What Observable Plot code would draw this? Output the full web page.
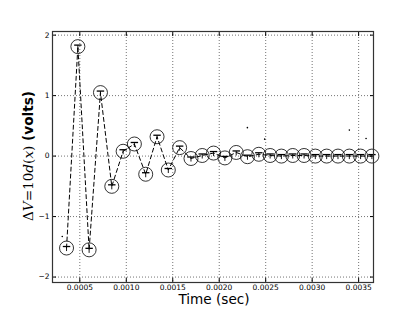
<!DOCTYPE html>
<html>
<head>
<meta charset="utf-8">
<script src="https://cdn.jsdelivr.net/npm/d3@7"></script>
<script src="https://cdn.jsdelivr.net/npm/@observablehq/plot@0.6"></script>
<style>
  html, body { margin: 0; padding: 0; background: #fff; }
  svg { display: block; }
</style>
</head>
<body>
<div id="chart"></div>
<script>
const times = [0.000357, 0.000479, 0.000600, 0.000722, 0.000844, 0.000966, 0.001087,
  0.001209, 0.001331, 0.001452, 0.001574, 0.001696, 0.001817, 0.001939, 0.002061,
  0.002183, 0.002304, 0.002426, 0.002548, 0.002669, 0.002791, 0.002913, 0.003034,
  0.003156, 0.003278, 0.003400, 0.003521, 0.003643];
const volts = [-1.52, 1.81, -1.55, 1.05, -0.50, 0.08, 0.20, -0.30, 0.32, -0.23, 0.14,
  -0.04, 0.01, 0.05, -0.03, 0.06, -0.01, 0.03, 0.01, 0.00, 0.01, 0.01, 0.00, 0.00,
  0.00, 0.00, 0.00, 0.00];
const strayT = [0.000311, 0.002303, 0.002489, 0.003400, 0.003580];
const strayV = [-1.33, 0.47, 0.28, 0.43, 0.29];
const xTicks = [0.0005, 0.0010, 0.0015, 0.0020, 0.0025, 0.0030, 0.0035];
const yTicks = [-2, -1, 0, 1, 2];
const xLabel = "Time (sec)";

const pts = times.map((t, i) => ({t, v: volts[i]}));
const stray = strayT.map((t, i) => ({t, v: strayV[i]}));
const fmtY = d => d < 0 ? "\u2212" + (-d) : String(d);
const font = "DejaVu Sans";
const empty = () => "";

const plot = Plot.plot({
  width: 415,
  height: 313,
  marginLeft: 52,
  marginRight: 42,
  marginTop: 31,
  marginBottom: 31,
  style: {fontFamily: font, fontSize: "7.5px", color: "#000", background: "#fff"},
  x: {domain: [0.000206, 0.00366]},
  y: {domain: [-2.09, 2.06]},
  marks: [
    Plot.gridX(xTicks, {stroke: "#000", strokeOpacity: 0.55, strokeDasharray: "1,2", strokeWidth: 1}),
    Plot.gridY(yTicks, {stroke: "#000", strokeOpacity: 0.55, strokeDasharray: "1,2", strokeWidth: 1}),
    Plot.line(pts, {x: "t", y: "v", stroke: "#000", strokeWidth: 1, strokeDasharray: "4,3"}),
    Plot.link(pts, {x1: d => d.t - 0.00004, x2: d => d.t + 0.00004, y1: d => d.v + 0.025, y2: d => d.v + 0.025, stroke: "#000", strokeWidth: 1.3}),
    Plot.link(pts, {x1: "t", x2: "t", y1: d => d.v + 0.025, y2: d => d.v - 0.05, stroke: "#000", strokeWidth: 0.9}),
    Plot.dot(pts, {x: "t", y: "v", r: 7, stroke: "#000", strokeWidth: 0.8, fill: "none"}),
    Plot.dot(stray, {x: "t", y: "v", r: 0.8, fill: "#000"}),
    Plot.axisX(xTicks, {anchor: "bottom", label: null, tickSize: 0, tickPadding: 2, tickFormat: d => d.toFixed(4), fontSize: 7.5}),
    Plot.axisX(xTicks, {anchor: "bottom", label: null, tickSize: -4, tickFormat: empty}),
    Plot.axisX(xTicks, {anchor: "top", label: null, tickSize: -4, tickFormat: empty}),
    Plot.axisY(yTicks, {anchor: "left", label: null, tickSize: 0, tickPadding: 3, tickFormat: fmtY, fontSize: 7.5}),
    Plot.axisY(yTicks, {anchor: "left", label: null, tickSize: -4, tickFormat: empty}),
    Plot.axisY(yTicks, {anchor: "right", label: null, tickSize: -4, tickFormat: empty}),
    Plot.frame({stroke: "#333", strokeWidth: 1.2})
  ]
});

const svg = d3.select(plot);
svg.append("text")
  .attr("x", 214).attr("y", 304)
  .attr("text-anchor", "middle")
  .attr("font-family", font).attr("font-size", 13.6)
  .attr("fill", "#000")
  .text(xLabel);

const yl = svg.append("text")
  .attr("transform", "translate(33,156) rotate(-90)")
  .attr("text-anchor", "middle")
  .attr("font-size", 13.6)
  .attr("fill", "#000");
yl.append("tspan").attr("font-family", "DejaVu Serif").text("\u0394");
yl.append("tspan").attr("font-family", "DejaVu Serif").attr("font-style", "italic").text("V");
yl.append("tspan").attr("font-family", "DejaVu Serif").text("=10");
yl.append("tspan").attr("font-family", "DejaVu Serif").attr("font-style", "italic").text("d");
yl.append("tspan").attr("font-family", "DejaVu Serif").text("(");
yl.append("tspan").attr("font-family", "DejaVu Serif").attr("font-style", "italic").text("x");
yl.append("tspan").attr("font-family", "DejaVu Serif").text(")");
yl.append("tspan").attr("font-family", font).attr("font-weight", "bold").text(" (volts)");

document.getElementById("chart").appendChild(plot);
</script>
</body>
</html>
